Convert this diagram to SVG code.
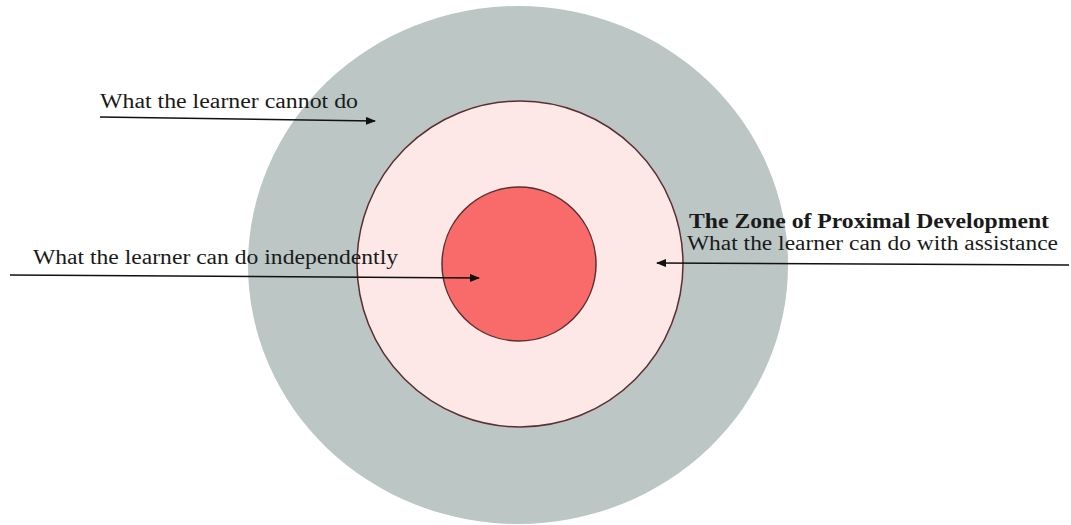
<svg xmlns="http://www.w3.org/2000/svg" width="1071" height="525" viewBox="0 0 1071 525">
<defs>
<style>
.lbl{font-family:"Liberation Serif","Times New Roman",serif;font-size:20px;fill:#1a1a1a}
.bold{font-weight:bold}
.arr{stroke:#111;stroke-width:1.5;fill:none;marker-end:url(#ah)}
.ring{stroke:#5a2f2f;stroke-width:1.5}
</style>
<marker id="ah" markerWidth="10" markerHeight="8" refX="9" refY="4" orient="auto" markerUnits="userSpaceOnUse">
<path d="M0,0 L10,4 L0,8 Z" fill="#111"/>
</marker>
</defs>
<rect width="1071" height="525" fill="#ffffff"/>
<g id="outer"><ellipse cx="518" cy="265" rx="270" ry="259" fill="#bbc6c5"/></g>
<g id="middle"><circle class="ring" cx="520" cy="264" r="163" fill="#fde7e7"/></g>
<g id="inner"><circle class="ring" cx="519" cy="264" r="77" fill="#f96b6b"/></g>
<g id="labels">
<text class="lbl" x="100" y="108" textLength="258" lengthAdjust="spacingAndGlyphs">What the learner cannot do</text>
<text class="lbl" x="33" y="264" textLength="365" lengthAdjust="spacingAndGlyphs">What the learner can do independently</text>
<text class="lbl bold" x="689" y="228" textLength="360" lengthAdjust="spacingAndGlyphs">The Zone of Proximal Development</text>
<text class="lbl" x="687" y="250" textLength="371" lengthAdjust="spacingAndGlyphs">What the learner can do with assistance</text>
</g>
<g id="connectors">
<path class="arr" d="M100,117 L375,121"/>
<path class="arr" d="M10,275 L479,278"/>
<path class="arr" d="M1069,265 L657,263"/>
</g>
</svg>
